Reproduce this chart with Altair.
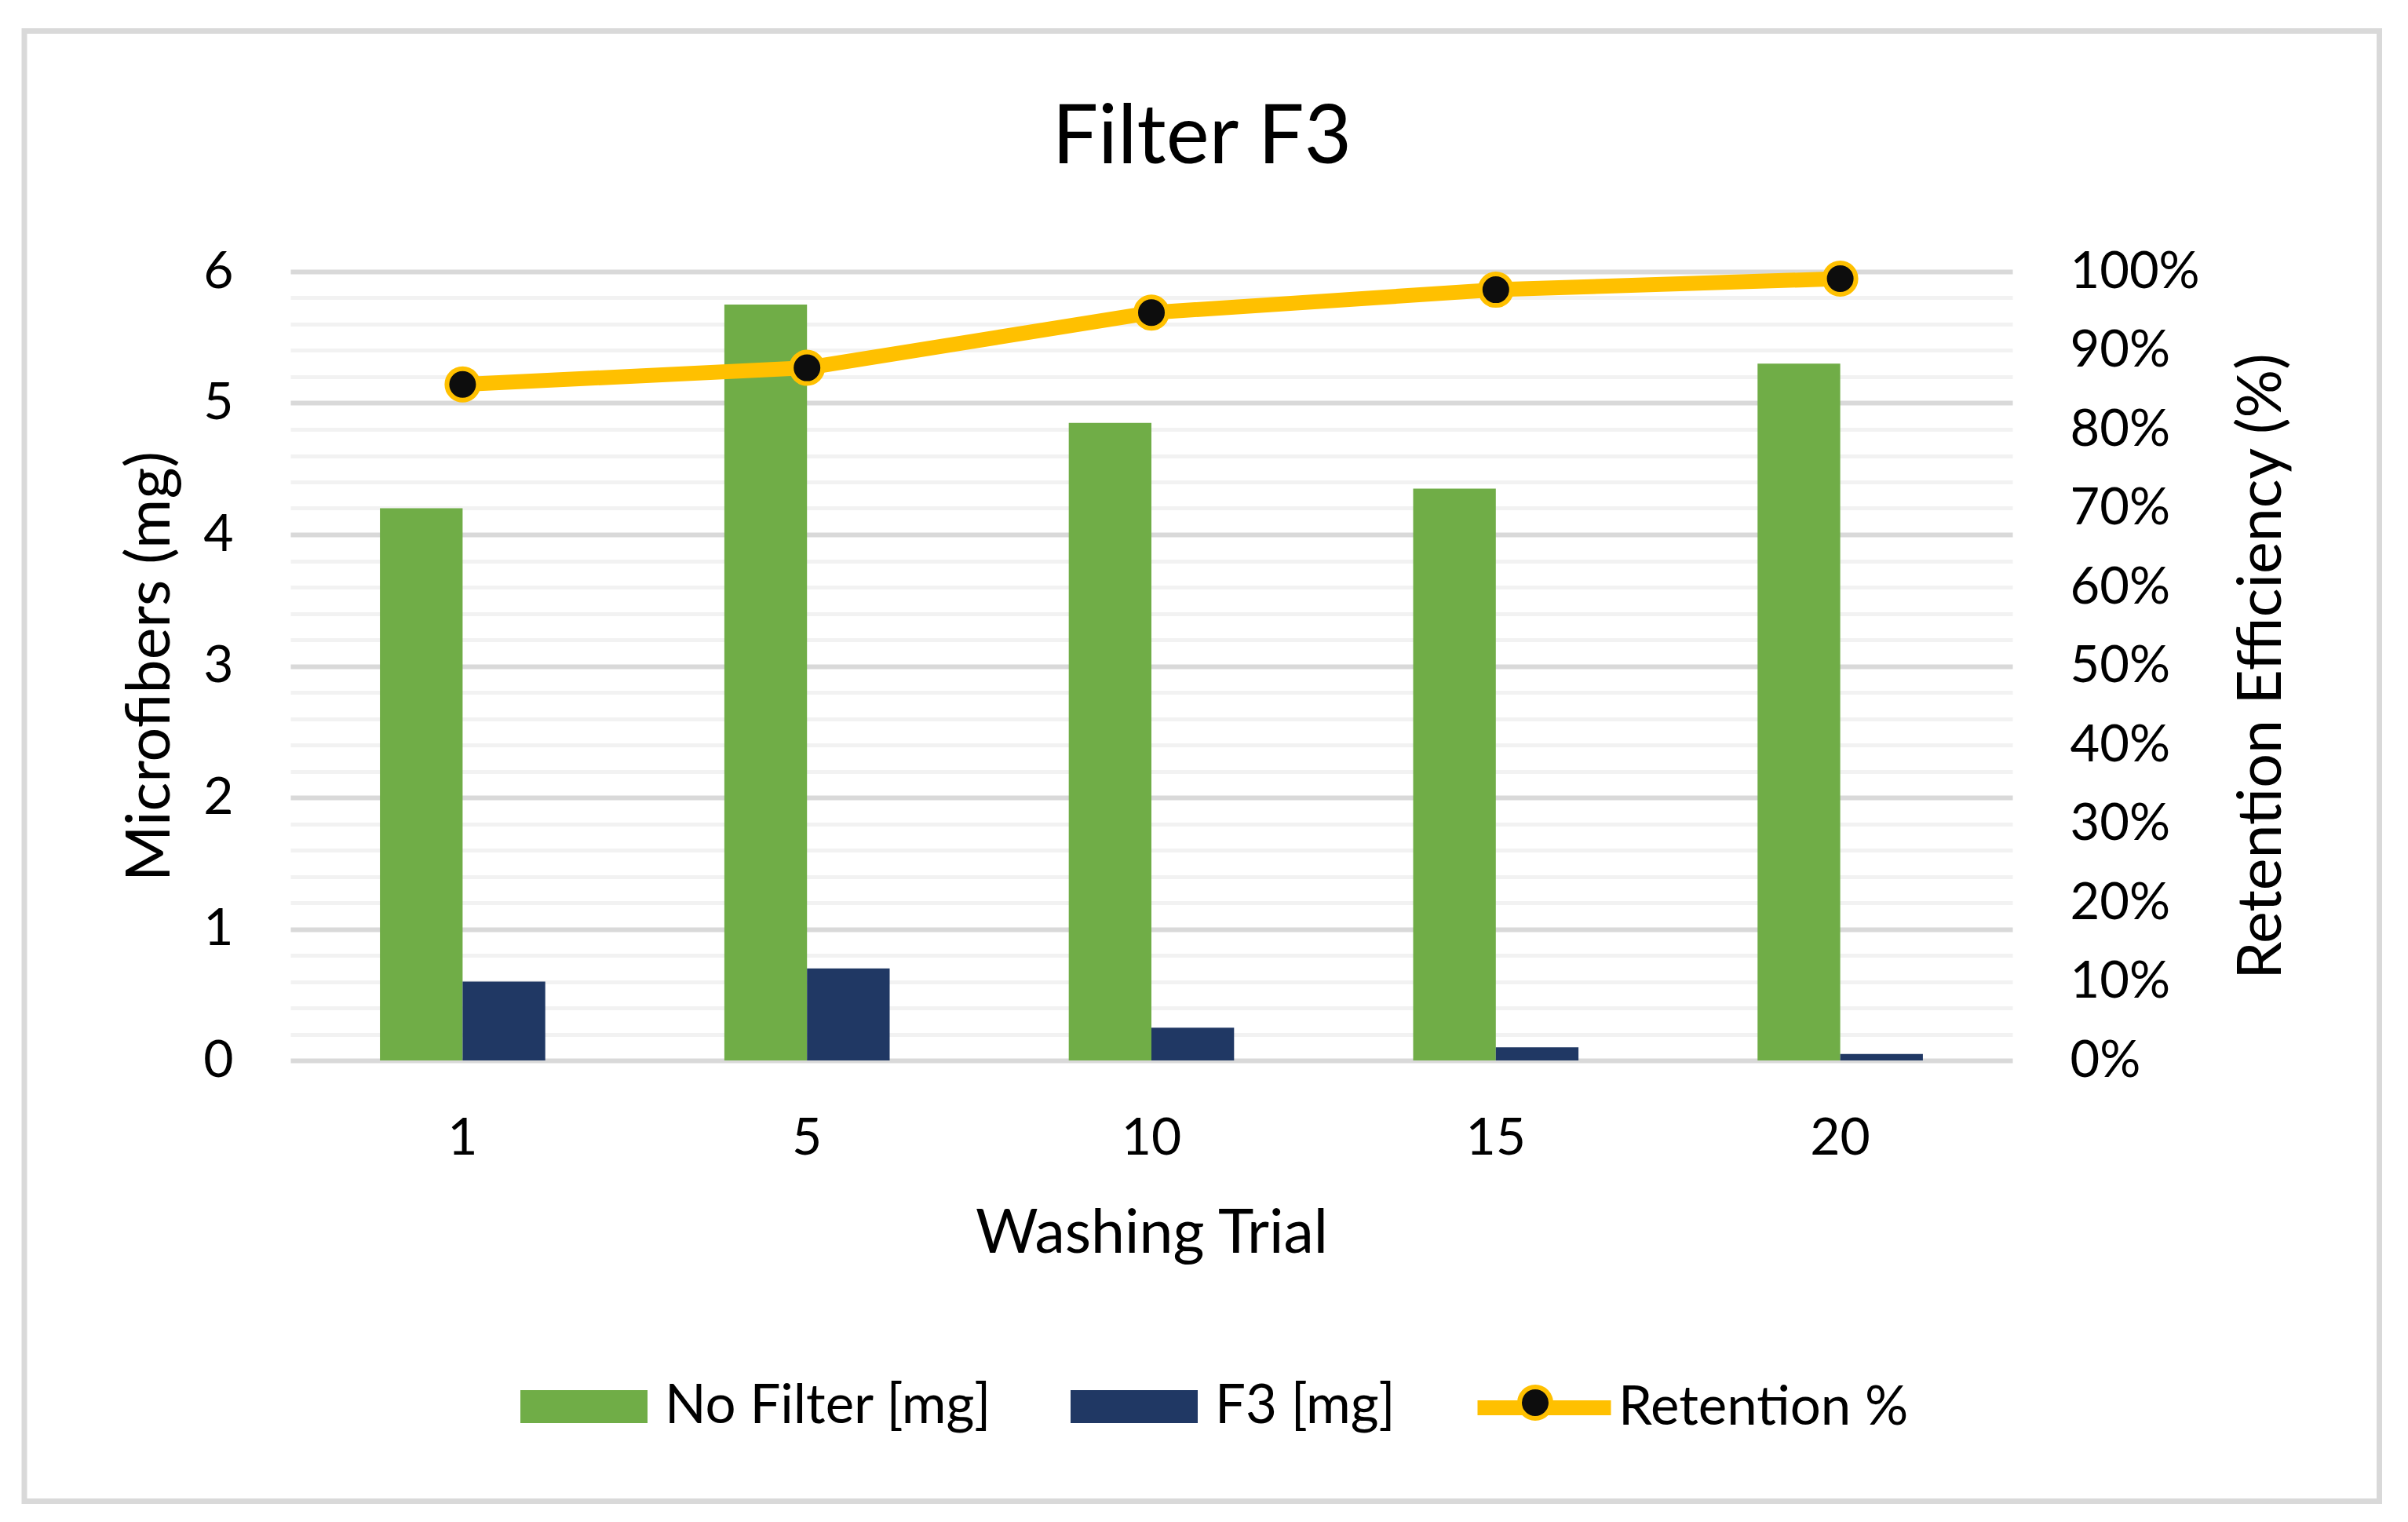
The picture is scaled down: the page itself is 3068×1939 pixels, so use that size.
import altair as alt
import pandas as pd

# ---- data ----
trials = ["1", "5", "10", "15", "20"]
no_filter_mg = [4.2, 5.75, 4.85, 4.35, 5.3]
f3_mg = [0.6, 0.7, 0.25, 0.1, 0.05]
retention = [0.857, 0.878, 0.948, 0.977, 0.991]
series_names = ["No Filter [mg]", "F3 [mg]"]
line_name = "Retention %"
marker_name = "Retention marker"

left_ticks = [0, 0.2, 0.4, 0.6, 0.8, 1, 1.2, 1.4, 1.6, 1.8, 2, 2.2, 2.4, 2.6, 2.8, 3,
              3.2, 3.4, 3.6, 3.8, 4, 4.2, 4.4, 4.6, 4.8, 5, 5.2, 5.4, 5.6, 5.8, 6]
right_ticks = [0, 0.1, 0.2, 0.3, 0.4, 0.5, 0.6, 0.7, 0.8, 0.9, 1.0]

GREEN = "#70AD47"
NAVY = "#203864"
YELLOW = "#FFC000"
DOT = "#0D0D0D"
FONT = "Lato"

bar_df = pd.DataFrame({
    "Trial": trials * 2,
    "Series": [series_names[0]] * len(trials) + [series_names[1]] * len(trials),
    "Value": no_filter_mg + f3_mg,
})
line_df = pd.DataFrame({"Trial": trials, "Retention": retention,
                        "S2": [line_name] * len(trials), "S3": [marker_name] * len(trials)})

W, H = 2194, 1005
IS_INT = "abs(datum.value - round(datum.value)) < 0.001"

x_enc = alt.X(
    "Trial:N", sort=trials,
    scale=alt.Scale(paddingInner=0.52, paddingOuter=0.26),
    axis=alt.Axis(title="Washing Trial", labelAngle=0, domain=False, ticks=False, tickSize=0,
                  grid=False, labelFont=FONT, labelFontSize=66, labelColor="#000",
                  labelBaseline="alphabetic", labelPadding=119,
                  titleFont=FONT, titleFontSize=77, titleFontWeight="normal", titleColor="#000",
                  titleBaseline="alphabetic", titleX=W / 2, titleY=244, titleAlign="center"),
)

bars = alt.Chart(bar_df).mark_bar().encode(
    x=x_enc,
    xOffset=alt.XOffset("Series:N", sort=series_names,
                        scale=alt.Scale(paddingInner=0, paddingOuter=0)),
    y=alt.Y("Value:Q", scale=alt.Scale(domain=[0, 6], nice=False),
            axis=alt.Axis(title="Microfibers (mg)", values=left_ticks, domain=False,
                          ticks=False, tickSize=0,
                          labelExpr=IS_INT + " ? format(datum.value, 'd') : ''",
                          labelFont=FONT, labelFontSize=66, labelColor="#000", labelPadding=73,
                          grid=True,
                          gridColor={"condition": {"test": IS_INT, "value": "#D9D9D9"},
                                     "value": "#F2F2F2"},
                          gridWidth={"condition": {"test": IS_INT, "value": 6}, "value": 5},
                          titleFont=FONT, titleFontSize=77, titleFontWeight="normal", titleColor="#000",
                          titleAngle=270, titleBaseline="alphabetic", titleAlign="center",
                          titleX=-155, titleY=H / 2)),
    color=alt.Color("Series:N", scale=alt.Scale(domain=series_names, range=[GREEN, NAVY]),
                    legend=alt.Legend(title=None, orient="none", legendX=293, legendY=1365,
                                      direction="horizontal", padding=0,
                                      symbolType="M-1,-0.26L1,-0.26L1,0.26L-1,0.26Z",
                                      symbolSize=26244, symbolStrokeWidth=0, symbolOpacity=1,
                                      labelFont=FONT, labelFontSize=69, labelColor="#000",
                                      labelLimit=2000, labelOffset=22, columnPadding=100)),
)

right_axis = alt.Axis(title="Retention Efficiency (%)", orient="right", values=right_ticks,
                      format=".0%", domain=False, ticks=False, tickSize=0, grid=False,
                      labelFont=FONT, labelFontSize=65, labelColor="#000", labelPadding=73,
                      labelAlign="left",
                      titleFont=FONT, titleFontSize=77, titleFontWeight="normal", titleColor="#000",
                      titleAngle=270, titleBaseline="alphabetic", titleAlign="center",
                      titleX=341, titleY=H / 2)

line = alt.Chart(line_df).mark_line(strokeWidth=19, strokeCap="round", strokeJoin="round").encode(
    x=alt.X("Trial:N", sort=trials),
    y=alt.Y("Retention:Q", scale=alt.Scale(domain=[0, 1], nice=False), axis=right_axis),
    stroke=alt.Stroke("S2:N", scale=alt.Scale(domain=[line_name], range=[YELLOW]),
                      legend=alt.Legend(title=None, orient="none", legendX=1503, legendY=1353,
                                        direction="horizontal", padding=0, symbolType="stroke",
                                        symbolSize=28900, symbolStrokeWidth=19,
                                        labelFont=FONT, labelFontSize=69, labelColor="#000",
                                        labelLimit=2000, labelOffset=0)),
)

points = alt.Chart(line_df).mark_point(filled=True, size=1600, stroke=YELLOW, strokeWidth=6,
                                       opacity=1, fillOpacity=1).encode(
    x=alt.X("Trial:N", sort=trials),
    y=alt.Y("Retention:Q", scale=alt.Scale(domain=[0, 1], nice=False), axis=right_axis),
    fill=alt.Fill("S3:N", scale=alt.Scale(domain=[marker_name], range=[DOT]),
                  legend=alt.Legend(title=None, orient="none", legendX=1563, legendY=1418,
                                    direction="horizontal", padding=0, symbolType="circle",
                                    symbolSize=1600, symbolStrokeColor=YELLOW,
                                    symbolStrokeWidth=6, symbolFillColor=DOT, symbolOpacity=1,
                                    labelExpr="''", labelFontSize=10)),
)

border = alt.Chart(pd.DataFrame({"b": [0]})).mark_rect(
    fillOpacity=0, stroke="#D9D9D9", strokeWidth=7, clip=False
).encode(x=alt.value(-339), x2=alt.value(2661.5), y=alt.value(-306.5), y2=alt.value(1566.5))

right = alt.layer(line, points)

chart = alt.layer(border, bars, right).resolve_scale(
    y="independent", color="independent", stroke="independent", fill="independent"
).resolve_legend(color="independent", stroke="independent", fill="independent").properties(
    width=W, height=H,
    title=alt.TitleParams("Filter F3", font=FONT, fontSize=104, fontWeight="normal", color="#000",
                          anchor="middle", frame="bounds", baseline="alphabetic", offset=0, dy=276),
    padding={"left": 362, "top": 338, "right": 476, "bottom": 569},
    autosize=alt.AutoSizeParams(type="none"),
    background="white",
).configure_view(strokeWidth=0)

chart.save("out.html", embed_options={"renderer": "svg", "actions": False})
